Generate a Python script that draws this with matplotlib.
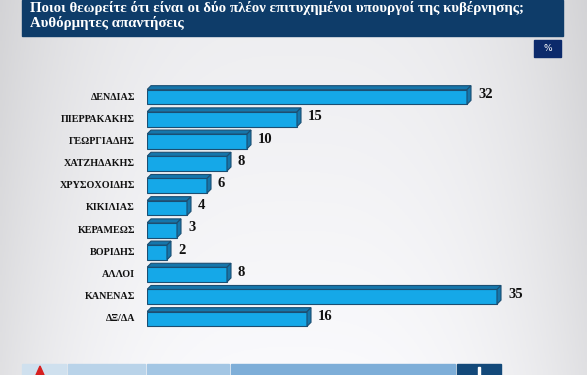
import numpy as np
import matplotlib
matplotlib.use("Agg")
from matplotlib import pyplot as plt
from matplotlib.patches import Rectangle, Polygon

# data
names = ['ΔΕΝΔΙΑΣ', 'ΠΙΕΡΡΑΚΑΚΗΣ', 'ΓΕΩΡΓΙΑΔΗΣ', 'ΧΑΤΖΗΔΑΚΗΣ', 'ΧΡΥΣΟΧΟΙΔΗΣ',
         'ΚΙΚΙΛΙΑΣ', 'ΚΕΡΑΜΕΩΣ', 'ΒΟΡΙΔΗΣ', 'ΑΛΛΟΙ', 'ΚΑΝΕΝΑΣ', 'ΔΞ/ΔΑ']
values = [32, 15, 10, 8, 6, 4, 3, 2, 8, 35, 16]
title = 'Ποιοι θεωρείτε ότι είναι οι δύο πλέον επιτυχημένοι υπουργοί της κυβέρνησης;\nΑυθόρμητες απαντήσεις'

W, H = 587, 375
fig = plt.figure(figsize=(W / 100, H / 100), dpi=100)

# background gradient
bg = fig.add_axes([0, 0, 1, 1])
bg.set_axis_off()
xx = np.linspace(-1, 1, 200)
yy = np.linspace(0, 1, 120)
X, Y = np.meshgrid(xx, yy)
shade = 0.98 - 0.10 * np.abs(X) ** 3 - 0.05 * Y
bg.imshow(np.dstack([shade, shade, shade + 0.01]).clip(0, 1), extent=[0, W, 0, H],
          aspect='auto', origin='upper')
bg.set_xlim(0, W)
bg.set_ylim(H, 0)

# title banner
bg.add_patch(Rectangle((22, 0), 541, 36, color='#0e3c69'))
bg.text(30, 1, title, color='white', fontsize=10.7, fontweight='bold',
        family='Liberation Serif', va='top', ha='left', linespacing=1.12)
bg.add_patch(Rectangle((534, 40), 27, 17, color='#0c2a6b'))
bg.text(547.5, 48.5, '%', color='white', fontsize=6.5, ha='center', va='center')

# bottom strip
segs = [(22, 44, '#cfe0ee'), (68, 77, '#b9d3e9'), (147, 82, '#a3c6e4'),
        (231, 224, '#7eaed8'), (457, 44, '#13497a')]
for x0, w, c in segs:
    bg.add_patch(Rectangle((x0, 364), w, 12, color=c))
bg.add_patch(Polygon([[36, 375], [40, 366], [44, 375]], color='#d62020'))
bg.add_patch(Rectangle((478, 367), 2, 8, color='white'))

# bars
ax = fig.add_axes([147 / W, 1 - 341.2 / H, 440 / W, 266.4 / H])
ax.set_xlim(0, 44)
ax.set_ylim(11, -1)
ax.set_axis_off()

pos = np.arange(len(names))
bh = 0.66
dx, dy = 0.4, 0.18
face = '#15a8e8'
dark = '#1576ab'
edge = '#1b4e72'
ax.barh(pos, values, height=bh, color=face, edgecolor=edge, linewidth=0.8, zorder=3)
for y, v, name in zip(pos, values, names):
    top = [(0, y - bh / 2), (dx, y - bh / 2 - dy), (v + dx, y - bh / 2 - dy), (v, y - bh / 2)]
    side = [(v, y - bh / 2), (v + dx, y - bh / 2 - dy), (v + dx, y + bh / 2 - dy), (v, y + bh / 2)]
    ax.add_patch(Polygon(top, closed=True, facecolor=dark, edgecolor=edge, lw=0.8, zorder=4))
    ax.add_patch(Polygon(side, closed=True, facecolor=dark, edgecolor=edge, lw=0.8, zorder=4))
    ax.text(v + 1.1, y - 0.1, str(v), fontsize=10.5, fontweight='bold',
            family='Liberation Serif', va='center', ha='left', color='#111111')
    ax.text(-1.2, y, name, fontsize=7.3, fontweight='bold',
            family='Liberation Serif', va='center', ha='right', color='#111111')

fig.savefig('out.png', dpi=100)
